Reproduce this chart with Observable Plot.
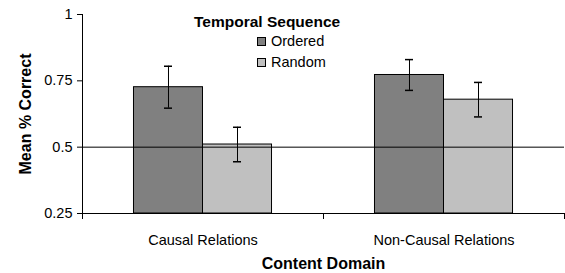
<!DOCTYPE html>
<html>
<head>
<meta charset="utf-8">
<script src="https://cdn.jsdelivr.net/npm/d3@7"></script>
<script src="https://cdn.jsdelivr.net/npm/@observablehq/plot@0.6"></script>
<style>
  html, body { margin: 0; padding: 0; background: #fff; }
  #wrap { position: relative; width: 565px; height: 273px; font-family: "Liberation Sans", Arial, sans-serif; }
  #legend { position: absolute; left: 0; top: 0; width: 565px; pointer-events: none; }
  .ltitle { position: absolute; left: 194px; top: 13px; font-weight: bold; font-size: 15.5px; line-height: 18px; white-space: nowrap; }
  .litem { position: absolute; left: 257px; font-size: 14.5px; line-height: 18px; white-space: nowrap; display: flex; align-items: center; }
  .sw { display: inline-block; width: 7px; height: 7px; border: 1px solid #000; margin-right: 5px; }
</style>
</head>
<body>
<div id="wrap"><div id="legend"></div></div>
<script>
const domains = ["Causal Relations", "Non-Causal Relations"];
const sequences = ["Ordered", "Random"];
const colors = ["#808080", "#c0c0c0"];
const means = {
  "Ordered": [0.726, 0.772],
  "Random": [0.510, 0.679]
};
const errors = {
  "Ordered": [0.079, 0.058],
  "Random": [0.065, 0.065]
};
const yTicks = [0.25, 0.5, 0.75, 1];
const yTickLabels = ["0.25", "0.5", "0.75", "1"];

const rows = [];
domains.forEach((d, i) => {
  sequences.forEach(s => {
    rows.push({domain: d, seq: s, mean: means[s][i], lo: means[s][i] - errors[s][i], hi: means[s][i] + errors[s][i]});
  });
});

const font = "Liberation Sans, Arial, sans-serif";

const chart = Plot.plot({
  width: 565,
  height: 273,
  marginLeft: 82,
  marginRight: 1,
  marginTop: 14,
  marginBottom: 60,
  style: {fontFamily: font, background: "#fff", color: "#000", overflow: "visible"},
  fx: {domain: domains, padding: 0, round: false, axis: null},
  x: {domain: sequences, paddingInner: 0, paddingOuter: 0.746, round: false, axis: null},
  y: {domain: [0.25, 1], axis: null},
  color: {domain: sequences, range: colors},
  marks: [
    Plot.barY(rows, {fx: "domain", x: "seq", y1: 0.25, y2: "mean", fill: "seq", stroke: "#000", strokeWidth: 1}),
    Plot.ruleY([0.5], {stroke: "#000", strokeWidth: 1}),
    Plot.ruleY([0.25], {stroke: "#000", strokeWidth: 1}),
    Plot.ruleX(rows, {fx: "domain", x: "seq", y1: "lo", y2: "hi", stroke: "#000", strokeWidth: 1}),
    Plot.tickY(rows, {fx: "domain", x: "seq", y: "lo", stroke: "#000", strokeWidth: 1.5, insetLeft: 30.5, insetRight: 30.5}),
    Plot.tickY(rows, {fx: "domain", x: "seq", y: "hi", stroke: "#000", strokeWidth: 1.5, insetLeft: 30.5, insetRight: 30.5}),
    Plot.frame({anchor: "left", facetAnchor: "left", stroke: "#000", insetBottom: -1}),
    Plot.frame({anchor: "left", stroke: "#000", insetTop: 199, insetBottom: -5}),
    Plot.frame({anchor: "right", stroke: "#000", insetTop: 199, insetBottom: -5}),
    Plot.axisY({ticks: yTicks, tickFormat: (d) => yTickLabels[yTicks.indexOf(d)], tickSize: 5, tickPadding: 5, fontSize: 14.5, label: null, stroke: "#000"}),
    Plot.axisY({ticks: [], label: "Mean % Correct", labelAnchor: "center", labelOffset: 63, labelArrow: "none", fontSize: 16, fontWeight: "bold"}),
    Plot.axisFx({anchor: "bottom", tickSize: 0, tickPadding: 21, fontSize: 14.5, label: null}),
    Plot.axisFx({anchor: "bottom", tickSize: 0, tickFormat: () => "", label: "Content Domain", labelAnchor: "center", labelOffset: 55, labelArrow: "none", fontSize: 16, fontWeight: "bold"})
  ]
});

const wrap = document.getElementById("wrap");
wrap.insertBefore(chart, wrap.firstChild);

const legend = document.getElementById("legend");
const t = document.createElement("div");
t.className = "ltitle";
t.textContent = "Temporal Sequence";
legend.appendChild(t);
const tops = [32, 53];
sequences.forEach((s, i) => {
  const it = document.createElement("div");
  it.className = "litem";
  it.style.top = tops[i] + "px";
  const sw = document.createElement("span");
  sw.className = "sw";
  sw.style.background = colors[i];
  it.appendChild(sw);
  it.appendChild(document.createTextNode(s));
  legend.appendChild(it);
});
</script>
</body>
</html>
